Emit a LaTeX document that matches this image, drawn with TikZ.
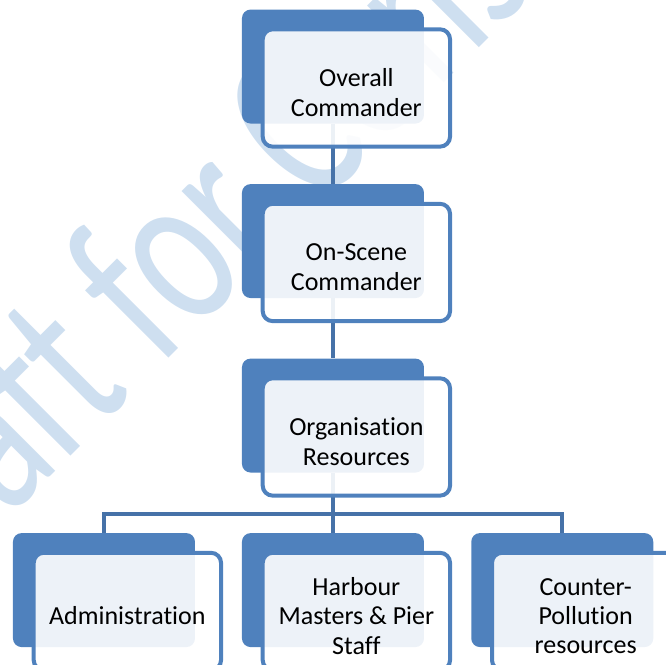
\documentclass[tikz,border=0pt]{standalone}
\usepackage{fontspec}
\setmainfont{Carlito}[Ligatures={NoCommon,NoContextual}]
\usetikzlibrary{backgrounds}

\definecolor{unitblue}{RGB}{79,129,189}
\definecolor{linkblue}{RGB}{70,114,168}
\definecolor{draftblue}{RGB}{206,223,240}

\tikzset{
  backbox/.style={rectangle, fill=unitblue, rounded corners=6.5pt,
    minimum width=136.5pt, minimum height=85.5pt, inner sep=0pt, anchor=north west},
  frontbox/.style={rectangle, draw=unitblue, line width=3pt, fill=white, fill opacity=0.9,
    rounded corners=7.5pt, minimum width=140.5pt, minimum height=88pt, inner sep=0pt,
    anchor=north west},
  boxtext/.style={align=center, font=\fontsize{19.5}{22}\selectfont, inner sep=0pt},
  link/.style={draw=linkblue, line width=3.2pt},
  draft/.style={text=draftblue, font=\fontsize{120}{120}\selectfont, inner sep=0pt,
    anchor=base west, rotate=45, yscale=1.42},
}

% one unit of the chart: blue tab with a framed text box on top
\newcommand{\orgunit}[4]{%
  \node[backbox] (#1-bk) at (#2,#3) {};
  \node[frontbox] (#1) at ([xshift=14.25pt,yshift=-13.5pt]#1-bk.north west) {};
  \node[boxtext] (#1-txt) at ([yshift=-3.4pt]#1.center) {#4};
}

\begin{document}
\begin{tikzpicture}[x=0.75pt, y=-0.75pt]
  \useasboundingbox (0,0) rectangle (666,664);

  \orgunit{oc}{241.7}{9.3}{Overall\\Commander}
  \orgunit{osc}{241.7}{183.8}{On-Scene\\Commander}
  \orgunit{res}{241.7}{358.3}{Organisation\\Resources}

  \orgunit{adm}{12.7}{532.8}{Administration}
  \orgunit{hm}{241.7}{532.8}{Harbour\\Masters \& Pier\\Staff}
  \orgunit{cp}{471}{532.8}{Counter-\\Pollution\\resources}

  \begin{pgfonlayer}{background}
    \node[draft] (draft) at (-98.6,625.5) {Draft for Consultation};

    \draw[link] (oc-bk.south) -- (osc-bk.north);
    \draw[link] (osc-bk.south) -- (res-bk.north);
    \draw[link] (res-bk.south) -- ++(0,41.5) coordinate (bus);
    \draw[link] (adm-bk.north) |- (bus) -| (cp-bk.north);
    \draw[link] (bus) -- (hm-bk.north);
  \end{pgfonlayer}
\end{tikzpicture}
\end{document}
